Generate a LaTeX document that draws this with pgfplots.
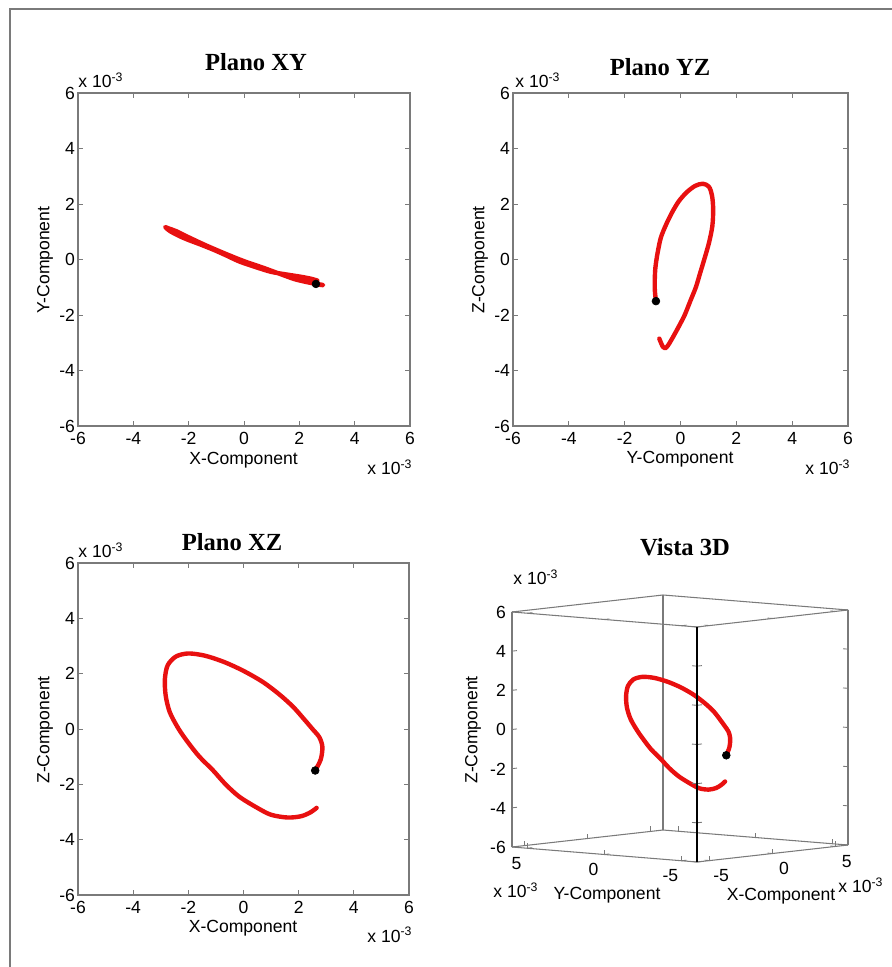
\documentclass[border=0pt]{standalone}
\usepackage{fontspec}
\setmainfont{Liberation Sans}
\newfontfamily\titlefont{Liberation Serif}
\usepackage{pgfplots}
\usepackage{pgfplotstable}
\pgfplotsset{compat=1.18}
\definecolor{axgray}{HTML}{7A7A7A}
\definecolor{trace}{HTML}{E81010}

% trajectory, units of 1e-3
\pgfplotstableread{
x      y      z
2.60  -0.88  -1.50
2.80  -0.92  -1.10
2.86  -0.92  -0.65
2.75  -0.90  -0.30
2.50  -0.86   0.00
2.20  -0.80   0.35
1.80  -0.70   0.80
1.30  -0.52   1.25
0.70  -0.30   1.70
0.00  -0.06   2.10
-0.70  0.22   2.42
-1.40  0.52   2.65
-2.00  0.80   2.73
-2.45  1.02   2.62
-2.75  1.13   2.30
-2.85  1.17   1.80
-2.82  1.14   1.20
-2.67  1.02   0.60
-2.35  0.85   0.00
-2.00  0.70  -0.50
-1.60  0.55  -1.00
-1.10  0.35  -1.50
-0.65  0.15  -2.00
-0.15 -0.08  -2.45
0.50  -0.30  -2.85
1.00  -0.45  -3.10
1.60  -0.55  -3.20
2.10  -0.63  -3.15
2.45  -0.70  -3.00
2.65  -0.76  -2.85
}\orbit

\pgfplotsset{
  plano/.style={
    scale only axis, anchor=south west,
    xmin=-6, xmax=6, ymin=-6, ymax=6,
    xtick={-6,-4,...,6}, ytick={-6,-4,...,6},
    tick align=inside, major tick length=0.1cm,
    axis line style={axgray, line width=0.6pt},
    tick style={axgray, line width=0.5pt},
    tick label style={font=\fontsize{10}{12}\selectfont},
    yticklabel style={inner sep=1.5pt},
    /pgf/number format/assume math mode=true,
  },
  traza/.style={trace, line width=2.5pt, line join=round, line cap=round, smooth, tension=0.5},
  punto/.style={only marks, mark=*, mark size=2.2pt, black},
}
\newcommand{\expo}{x 10\textsuperscript{-3}}

\begin{document}
\begin{tikzpicture}
\useasboundingbox (0,0) rectangle (17.84cm,19.34cm);
\draw[axgray, line width=1.2pt] (0.2cm,0) -- (0.2cm,19.16cm) -- (17.84cm,19.16cm);

% Plano XY
\begin{axis}[plano, at={(1.56cm,10.82cm)}, width=6.64cm, height=6.66cm]
\addplot[traza] table[x=x, y=y] {\orbit};
\addplot[punto] coordinates {(2.60,-0.88)};
\end{axis}

% Plano YZ
\begin{axis}[plano, at={(10.26cm,10.82cm)}, width=6.70cm, height=6.66cm]
\addplot[traza] table[x=y, y=z] {\orbit};
\addplot[punto] coordinates {(-0.88,-1.50)};
\end{axis}

% Plano XZ
\begin{axis}[plano, at={(1.56cm,1.44cm)}, width=6.62cm, height=6.64cm]
\addplot[traza] table[x=x, y=z] {\orbit};
\addplot[punto] coordinates {(2.60,-1.50)};
\end{axis}

% Vista 3D
\begin{axis}[
  anchor=origin, at={(13.6cm,4.77cm)},
  x={(0.2517cm,0.0283cm)}, y={(-0.3083cm,0.025cm)}, z={(0cm,0.3917cm)},
  xmin=-6, xmax=6, ymin=-6, ymax=6, zmin=-6, zmax=6,
  xtick={-5,0,5}, ytick={-5,0,5}, ztick={-6,-4,...,6},
  3d box=complete, tick pos=left,
  tick align=inside, major tick length=0.1cm,
  axis line style={axgray, line width=0.6pt},
  tick style={axgray, line width=0.5pt},
  tick label style={font=\fontsize{10}{12}\selectfont},
  xticklabel style={yshift=-1.5pt}, yticklabel style={yshift=-1.5pt},
  /pgf/number format/assume math mode=true,
  after end axis/.append code={
    \draw[black, line width=0.8pt] (axis cs:-6,-6,-6) -- (axis cs:-6,-6,6);
  },
]
\addplot3[traza] table[x=x, y=y, z=z] {\orbit};
\addplot3[punto] coordinates {(2.60,-0.88,-1.50)};
\end{axis}

% titles
\begin{scope}[every node/.style={font=\titlefont\bfseries\fontsize{14}{16}\selectfont}]
\node at (5.12cm,18.10cm) {Plano XY};
\node at (13.2cm,18.0cm) {Plano YZ};
\node at (4.64cm,8.50cm) {Plano XZ};
\node at (13.7cm,8.40cm) {Vista 3D};
\end{scope}

% axis labels
\begin{scope}[every node/.style={font=\fontsize{10}{12}\selectfont}]
\node at (4.87cm,10.14cm) {X-Component};
\node[rotate=90] at (0.90cm,14.14cm) {Y-Component};
\node at (13.6cm,10.16cm) {Y-Component};
\node[rotate=90] at (9.60cm,14.14cm) {Z-Component};
\node at (4.86cm,0.78cm) {X-Component};
\node[rotate=90] at (0.90cm,4.74cm) {Z-Component};
\node[rotate=90] at (9.46cm,4.74cm) {Z-Component};
\node at (12.14cm,1.44cm) {Y-Component};
\node at (15.62cm,1.42cm) {X-Component};
% exponents
\node[anchor=base west, inner sep=0] at (1.56cm,17.58cm) {\expo};
\node[anchor=base west, inner sep=0] at (7.34cm,9.84cm) {\expo};
\node[anchor=base west, inner sep=0] at (10.30cm,17.58cm) {\expo};
\node[anchor=base west, inner sep=0] at (16.10cm,9.84cm) {\expo};
\node[anchor=base west, inner sep=0] at (1.56cm,8.18cm) {\expo};
\node[anchor=base west, inner sep=0] at (7.34cm,0.50cm) {\expo};
\node[anchor=base west, inner sep=0] at (10.26cm,7.64cm) {\expo};
\node[anchor=base west, inner sep=0] at (9.86cm,1.38cm) {\expo};
\node[anchor=base west, inner sep=0] at (16.76cm,1.48cm) {\expo};
\end{scope}
\end{tikzpicture}
\end{document}
